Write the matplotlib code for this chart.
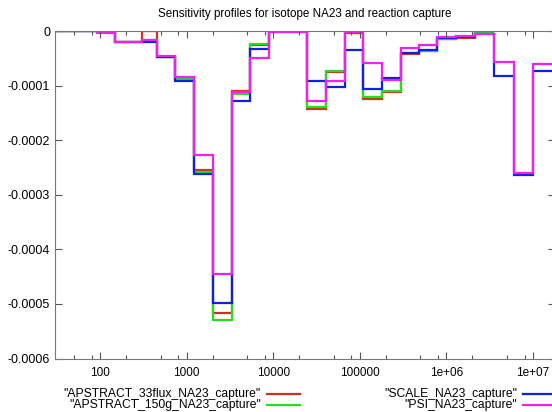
import matplotlib.pyplot as plt
import matplotlib.ticker as ticker
from matplotlib.lines import Line2D

plt.rcParams['font.family'] = ['Liberation Sans', 'DejaVu Sans']

# group boundaries (eV)
bordas = [30, 91, 147, 301, 449, 725, 1202, 1992, 3300, 5321, 8830, 24560, 40150,
          66540, 110200, 182700, 302800, 488300, 788600, 1.307e6, 2.165e6, 3.58e6,
          6.03e6, 1.0e7, 2.0e7]

# sensibilidades por grupo
apstract_33flux = [0, 0, -2.0e-5, 0, -4.7e-5, -8.6e-5, -2.54e-4, -5.17e-4, -1.10e-4, -2.6e-5,
                   0, -1.42e-4, -7.5e-5, -3e-6, -1.24e-4, -1.12e-4, -4.2e-5, -3.7e-5,
                   -1.5e-5, -1.2e-5, -3e-6]
apstract_150g = [0, 0, -2.0e-5, -1.7e-5, -4.8e-5, -8.8e-5, -2.58e-4, -5.29e-4, -1.15e-4, -2.3e-5,
                 0, -1.40e-4, -7.4e-5, 0, -1.20e-4, -1.10e-4, -4.1e-5, -3.6e-5,
                 -1.4e-5, -1.1e-5, -2e-6]
scale = [0, 0, -2.0e-5, -2.0e-5, -4.7e-5, -9.2e-5, -2.62e-4, -4.99e-4, -1.29e-4, -3.3e-5,
         -1e-6, -9.2e-5, -1.02e-4, -3.5e-5, -1.06e-4, -8.7e-5, -4.0e-5, -3.5e-5,
         -1.3e-5, -1.1e-5, -6e-6, -8.2e-5, -2.63e-4, -7.3e-5]
psi = [0, -4e-6, -2.0e-5, -1.7e-5, -4.6e-5, -8.4e-5, -2.27e-4, -4.46e-4, -1.12e-4, -4.9e-5,
       -1e-6, -1.28e-4, -9.1e-5, -1e-6, -5.8e-5, -8.9e-5, -3.2e-5, -2.5e-5,
       -1.05e-5, -8.5e-6, -5e-6, -5.7e-5, -2.6e-4, -6.1e-5]

series = [
    ('"APSTRACT_33flux_NA23_capture"', apstract_33flux, '#d03020'),
    ('"APSTRACT_150g_NA23_capture"', apstract_150g, '#20e020'),
    ('"SCALE_NA23_capture"', scale, '#1020e0'),
    ('"PSI_NA23_capture"', psi, '#f020f0'),
]

fig = plt.figure(figsize=(5.52, 4.12), dpi=100)
ax = fig.add_axes([55 / 552, 1 - 358.5 / 412, 500 / 552, (358.5 - 31) / 412])

for nome, valores, cor in series:
    ax.stairs(valores, bordas[:len(valores) + 1], baseline=None, color=cor, linewidth=1.6)

ax.set_xscale('log')
ax.set_xlim(30, 1.8e7)
ax.set_ylim(-0.0006, 0)
ax.xaxis.set_major_locator(ticker.LogLocator(base=10, numticks=20))
ax.xaxis.set_major_formatter(ticker.FuncFormatter(
    lambda v, p: '{:d}'.format(int(round(v))) if v < 1e6 else '{:.0e}'.format(v).replace('e+0', 'e+0')))
ax.xaxis.set_minor_locator(ticker.LogLocator(base=10, subs=[2, 5, 8], numticks=20))
ax.xaxis.set_minor_formatter(ticker.NullFormatter())
ax.set_yticks([0, -0.0001, -0.0002, -0.0003, -0.0004, -0.0005, -0.0006])
ax.set_yticklabels(['0', '-0.0001', '-0.0002', '-0.0003', '-0.0004', '-0.0005', '-0.0006'])

ax.tick_params(which='both', direction='in', top=True, right=True,
               colors='#555555', labelcolor='black', width=0.8)
ax.tick_params(axis='y', labelsize=9)
ax.tick_params(axis='x', labelsize=8.5, pad=6)
ax.tick_params(which='major', length=5)
ax.tick_params(which='minor', length=3)
for s in ax.spines.values():
    s.set_color('#777777')
    s.set_linewidth(0.8)

fig.text(305 / 552, 1 - 14 / 412, 'Sensitivity profiles for isotope NA23 and reaction capture',
         ha='center', va='center', fontsize=8.4)

# legenda manual, estilo gnuplot
posicoes = [(261, 300, 394), (261, 300, 405), (517, 557, 394), (517, 557, 405)]
for (nome, valores, cor), (xt, xl, y) in zip(series, posicoes):
    fig.text(xt / 552, 1 - y / 412, nome, ha='right', va='center', fontsize=8.7)
    fig.add_artist(Line2D([(xt + 6) / 552, xl / 552], [1 - y / 412, 1 - y / 412],
                          color=cor, linewidth=1.6, transform=fig.transFigure))

plt.savefig('out.png', dpi=100)
